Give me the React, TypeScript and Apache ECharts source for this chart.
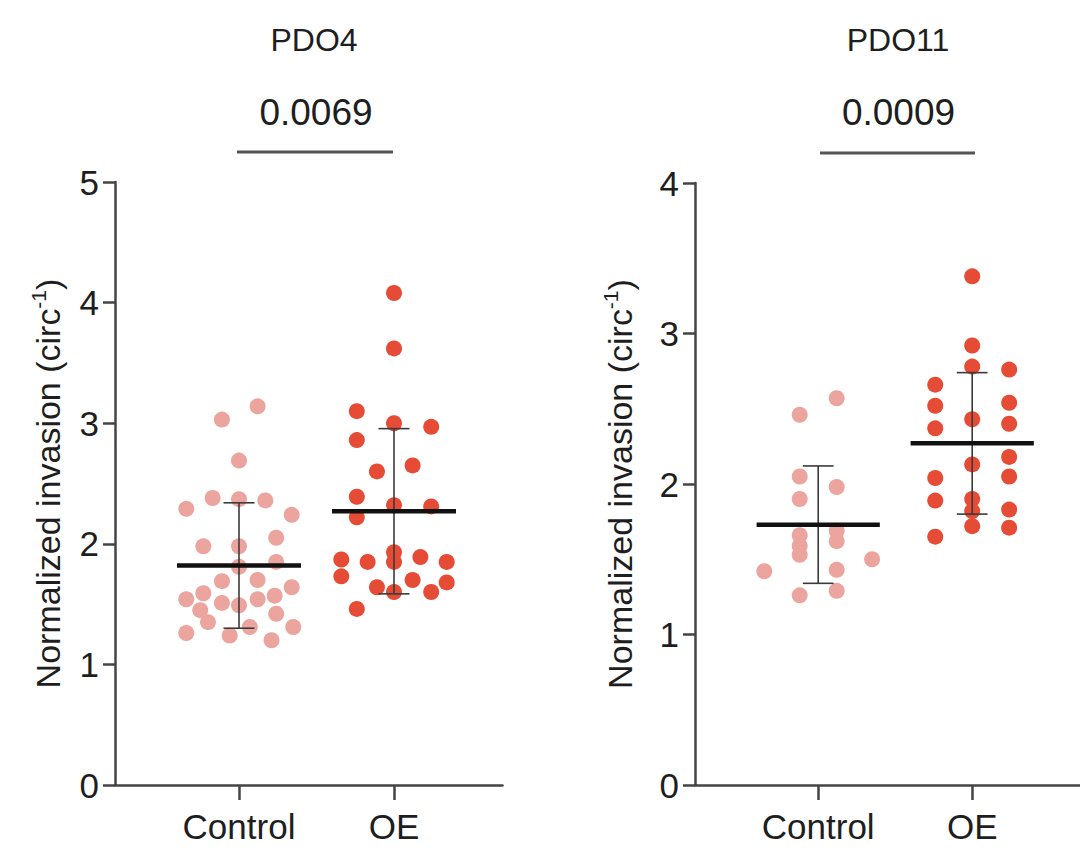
import React, { useEffect, useRef } from 'react';
import * as echarts from 'echarts';

const FONT = "'Liberation Sans', Arial, Helvetica, sans-serif";

const categories = ['Control', 'OE'];
const panelTitles = ['PDO4', 'PDO11'];
const pValues = ['0.0069', '0.0009'];
const yMaxes = [5, 4];

// PDO4
const pdo4ControlValues = [3.14, 3.03, 2.69, 2.38, 2.37, 2.36, 2.29, 2.24, 1.98, 1.98, 2.05, 1.85, 1.81, 1.69, 1.70, 1.64, 1.54, 1.59, 1.51, 1.49, 1.54, 1.57, 1.45, 1.35, 1.42, 1.26, 1.24, 1.31, 1.20, 1.31];
const pdo4ControlJitter = [0.12, -0.11, 0, -0.17, 0, 0.17, -0.34, 0.34, -0.23, 0, 0.24, 0.24, 0, -0.11, 0.12, 0.34, -0.34, -0.23, -0.11, 0, 0.12, 0.23, -0.25, -0.2, 0.24, -0.34, -0.06, 0.07, 0.21, 0.35];
const pdo4OEValues = [4.08, 3.62, 3.10, 3.00, 2.97, 2.86, 2.60, 2.65, 2.39, 2.32, 2.31, 2.22, 1.87, 1.85, 1.93, 1.85, 1.89, 1.85, 1.73, 1.64, 1.60, 1.70, 1.60, 1.68, 1.46];
const pdo4OEJitter = [0, 0, -0.24, 0, 0.24, -0.24, -0.11, 0.12, -0.24, 0, 0.24, -0.24, -0.34, -0.17, 0, 0, 0.17, 0.34, -0.34, -0.11, 0, 0.12, 0.24, 0.34, -0.24];
const pdo4Means = [1.82, 2.27];
const pdo4SDs = [0.52, 0.685];

// PDO11
const pdo11ControlValues = [2.57, 2.46, 2.05, 1.98, 1.90, 1.66, 1.59, 1.53, 1.69, 1.62, 1.50, 1.42, 1.43, 1.26, 1.29];
const pdo11ControlJitter = [0.12, -0.12, -0.12, 0.12, -0.12, -0.12, -0.12, -0.12, 0.12, 0.12, 0.35, -0.35, 0.12, -0.12, 0.12];
const pdo11OEValues = [3.38, 2.92, 2.78, 2.76, 2.66, 2.52, 2.43, 2.54, 2.40, 2.37, 2.18, 2.13, 2.05, 2.04, 1.89, 1.90, 1.82, 1.83, 1.72, 1.71, 1.65];
const pdo11OEJitter = [0, 0, 0, 0.24, -0.24, -0.24, 0, 0.24, 0.24, -0.24, 0.24, 0, 0.24, -0.24, -0.24, 0, 0, 0.24, 0, 0.24, -0.24];
const pdo11Means = [1.73, 2.27];
const pdo11SDs = [0.39, 0.47];

const CONTROL_COLOR = '#EBA59E';
const OE_COLOR = '#E64B36';
const AXIS_COLOR = '#444';
const TEXT_COLOR = '#1e1e1e';

const panels = [
  { cv: pdo4ControlValues, cj: pdo4ControlJitter, ov: pdo4OEValues, oj: pdo4OEJitter, means: pdo4Means, sds: pdo4SDs },
  { cv: pdo11ControlValues, cj: pdo11ControlJitter, ov: pdo11OEValues, oj: pdo11OEJitter, means: pdo11Means, sds: pdo11SDs },
];

const gridLefts = [115, 695];
const gridTops = [182, 183];
const nameGaps = [47, 55];

function renderMeanSD(params: any, api: any) {
  const x = api.value(0);
  const m = api.value(1);
  const s = api.value(2);
  const pl = api.coord([x - 0.4, m]);
  const pr = api.coord([x + 0.4, m]);
  const pt = api.coord([x, m + s]);
  const pb = api.coord([x, m - s]);
  const cap = api.size([0.1, 0])[0];
  const thin = { stroke: '#3a3a3a', lineWidth: 1.6 };
  return {
    type: 'group',
    children: [
      { type: 'line', shape: { x1: pt[0], y1: pt[1], x2: pb[0], y2: pb[1] }, style: thin },
      { type: 'line', shape: { x1: pt[0] - cap, y1: pt[1], x2: pt[0] + cap, y2: pt[1] }, style: thin },
      { type: 'line', shape: { x1: pb[0] - cap, y1: pb[1], x2: pb[0] + cap, y2: pb[1] }, style: thin },
      { type: 'line', shape: { x1: pl[0], y1: pl[1], x2: pr[0], y2: pr[1] }, style: { stroke: '#111', lineWidth: 4.5 } },
    ],
  };
}

function buildOption() {
  const grids: any[] = [];
  const xAxes: any[] = [];
  const yAxes: any[] = [];
  const series: any[] = [];
  panels.forEach((p, i) => {
    grids.push({ left: gridLefts[i], top: gridTops[i], width: 387.5, height: 785 - gridTops[i] });
    xAxes.push({
      type: 'value', gridIndex: i, min: 0.2, max: 2.7,
      axisLine: { show: true, onZero: false, lineStyle: { color: AXIS_COLOR, width: 2.5 } },
      axisTick: { show: true, customValues: [1, 2], length: 15, lineStyle: { color: AXIS_COLOR, width: 2.5 } },
      axisLabel: {
        customValues: [1, 2], formatter: (v: number) => categories[Math.round(v) - 1] ?? '',
        fontSize: 35, margin: 24, color: TEXT_COLOR, fontFamily: FONT,
      },
      splitLine: { show: false },
    });
    yAxes.push({
      type: 'value', gridIndex: i, min: 0, max: yMaxes[i], interval: 1,
      axisLine: { show: true, lineStyle: { color: AXIS_COLOR, width: 2.5 } },
      axisTick: { show: true, length: 12, lineStyle: { color: AXIS_COLOR, width: 2.5 } },
      axisLabel: { fontSize: 35, margin: 16, color: TEXT_COLOR, fontFamily: FONT },
      splitLine: { show: false },
      name: '{a|Normalized invasion (circ}{s|-1}{a|)}',
      nameLocation: 'middle', nameRotate: 90, nameGap: nameGaps[i],
      nameTextStyle: {
        color: TEXT_COLOR, fontFamily: FONT,
        rich: {
          a: { fontSize: 34, fontFamily: FONT, color: TEXT_COLOR, lineHeight: 40 },
          s: { fontSize: 21, fontFamily: FONT, color: TEXT_COLOR, verticalAlign: 'top', lineHeight: 40 },
        },
      },
    });
    series.push({
      type: 'scatter', xAxisIndex: i, yAxisIndex: i, symbolSize: 16,
      itemStyle: { color: CONTROL_COLOR, opacity: 1 },
      data: p.cv.map((v, k) => [1 + p.cj[k], v]), z: 2,
    });
    series.push({
      type: 'scatter', xAxisIndex: i, yAxisIndex: i, symbolSize: 16,
      itemStyle: { color: OE_COLOR, opacity: 1 },
      data: p.ov.map((v, k) => [2 + p.oj[k], v]), z: 2,
    });
    series.push({
      type: 'custom', xAxisIndex: i, yAxisIndex: i, renderItem: renderMeanSD, z: 5,
      encode: { x: 0, y: 1 },
      data: p.means.map((m, k) => [k + 1, m, p.sds[k]]),
    });
  });

  const titleX = [314, 898];
  const bracket = [[237, 393, 152], [820, 975, 153]];
  const graphic: any[] = [];
  panels.forEach((_, i) => {
    graphic.push({
      type: 'text', x: titleX[i], y: 40,
      style: { text: panelTitles[i], align: 'center', verticalAlign: 'middle', fontSize: 32, fontFamily: FONT, fill: TEXT_COLOR },
    });
    graphic.push({
      type: 'text', x: (bracket[i][0] + bracket[i][1]) / 2 + 1, y: 112,
      style: { text: pValues[i], align: 'center', verticalAlign: 'middle', fontSize: 37, fontFamily: FONT, fill: TEXT_COLOR },
    });
    graphic.push({
      type: 'line', shape: { x1: bracket[i][0], y1: bracket[i][2], x2: bracket[i][1], y2: bracket[i][2] },
      style: { stroke: '#555', lineWidth: 3 },
    });
  });

  return {
    animation: false,
    backgroundColor: '#fff',
    grid: grids,
    xAxis: xAxes,
    yAxis: yAxes,
    series,
    graphic,
  };
}

export default function App() {
  const ref = useRef<HTMLDivElement>(null);
  useEffect(() => {
    const chart = echarts.init(ref.current!, null, { renderer: 'svg' });
    chart.setOption(buildOption() as any);
    return () => chart.dispose();
  }, []);
  return <div ref={ref} style={{ position: 'fixed', left: 0, top: 0, width: 1080, height: 851, background: '#fff' }} />;
}
